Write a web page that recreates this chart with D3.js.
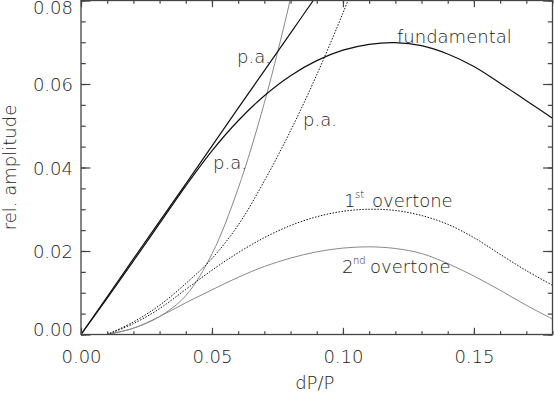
<!DOCTYPE html>
<html>
<head>
<meta charset="utf-8">
<style>
  body { margin: 0; background: #fff; }
  svg { display: block; font-family: "DejaVu Sans", sans-serif; }
  .lbl { font-size: 18px; fill: #222; font-weight: 200; }
  .axis text { font-size: 18px; fill: #222; font-weight: 200; font-family: "DejaVu Sans", sans-serif; }
  .axis line { stroke: #444; stroke-width: 1.2; }
  .axis path { display: none; }
</style>
<script src="https://d3js.org/d3.v7.min.js"></script>
</head>
<body>
<script>
// ticks
const xMajor = [0.00, 0.05, 0.10, 0.15];
const yMajor = [0.00, 0.02, 0.04, 0.06, 0.08];

// fundamental mode and its power approximation
const fundX = [0.00, 0.01, 0.02, 0.03, 0.04, 0.05, 0.06, 0.07, 0.08, 0.09, 0.10, 0.11, 0.12, 0.13, 0.14, 0.15, 0.16, 0.17, 0.18];
const fundY = [0.0000, 0.0087, 0.0176, 0.0266, 0.0356, 0.0440, 0.0512, 0.0572, 0.0620, 0.0656, 0.0681, 0.0695, 0.0699, 0.0692, 0.0672, 0.0642, 0.0602, 0.0560, 0.0518];
const paFundX = [0.00, 0.02, 0.04, 0.06, 0.08, 0.092];
const paFundY = [0.0000, 0.0181, 0.0361, 0.0542, 0.0722, 0.0830];

// 1st overtone and its power approximation
const ov1X = [0.01, 0.02, 0.03, 0.04, 0.05, 0.06, 0.07, 0.08, 0.09, 0.10, 0.11, 0.12, 0.13, 0.14, 0.15, 0.16, 0.17, 0.18];
const ov1Y = [0.0000, 0.0026, 0.0062, 0.0108, 0.0154, 0.0196, 0.0232, 0.0261, 0.0282, 0.0295, 0.0300, 0.0297, 0.0285, 0.0264, 0.0232, 0.0192, 0.0153, 0.0118];
const paOv1X = [0.01, 0.02, 0.03, 0.04, 0.05, 0.06, 0.07, 0.08, 0.09, 0.10, 0.105];
const paOv1Y = [0.0000, 0.0030, 0.0070, 0.0122, 0.0182, 0.0262, 0.0368, 0.0488, 0.0622, 0.0770, 0.0850];

// 2nd overtone and its power approximation
const ov2X = [0.01, 0.02, 0.03, 0.04, 0.05, 0.06, 0.07, 0.08, 0.09, 0.10, 0.11, 0.12, 0.13, 0.14, 0.15, 0.16, 0.17, 0.18];
const ov2Y = [0.0000, 0.0015, 0.0043, 0.0076, 0.0107, 0.0137, 0.0163, 0.0183, 0.0198, 0.0207, 0.0210, 0.0206, 0.0194, 0.0170, 0.0140, 0.0106, 0.0070, 0.0037];
const paOv2X = [0.01, 0.02, 0.03, 0.04, 0.05, 0.06, 0.07, 0.08, 0.085];
const paOv2Y = [0.0000, 0.0015, 0.0043, 0.0093, 0.0193, 0.0350, 0.0555, 0.0805, 0.0950];

const W = 554, H = 393;
const m = { left: 81, top: 0.5, right: 1.5, bottom: 58.5 };
const iw = W - m.left - m.right, ih = H - m.top - m.bottom;

const svg = d3.select('body').append('svg').attr('width', W).attr('height', H);
const g = svg.append('g').attr('transform', `translate(${m.left},${m.top})`);

const x = d3.scaleLinear().domain([0, 0.18]).range([0, iw]);
const y = d3.scaleLinear().domain([0, 0.08]).range([ih, 0]);

g.append('clipPath').attr('id', 'clip')
  .append('rect').attr('width', iw).attr('height', ih);

const line = d3.line().x(d => x(d[0])).y(d => y(d[1])).curve(d3.curveCatmullRom.alpha(0.5));
const pts = (xs, ys) => xs.map((v, i) => [v, ys[i]]);

const curves = [
  { d: pts(paOv2X, paOv2Y), color: '#888', w: 1, dash: null },
  { d: pts(ov2X, ov2Y), color: '#888', w: 1, dash: null },
  { d: pts(paOv1X, paOv1Y), color: '#111', w: 1, dash: '1.5,1.5' },
  { d: pts(ov1X, ov1Y), color: '#111', w: 1, dash: '1.5,1.5' },
  { d: pts(paFundX, paFundY), color: '#111', w: 1.2, dash: null },
  { d: pts(fundX, fundY), color: '#111', w: 1.2, dash: null }
];

g.append('g').attr('clip-path', 'url(#clip)')
  .selectAll('path').data(curves).join('path')
  .attr('d', c => line(c.d))
  .attr('fill', 'none')
  .attr('stroke', c => c.color)
  .attr('stroke-width', c => c.w)
  .attr('stroke-dasharray', c => c.dash);

// axes: ticks point inward on all four sides
const xMinor = d3.range(0, 0.1801, 0.01);
const yMinor = d3.range(0, 0.0801, 0.005);
const xt = 6.7, yt = 9.4;

g.append('g').attr('class', 'axis').attr('transform', `translate(0,${ih})`)
  .call(d3.axisBottom(x).tickValues(xMinor).tickSize(-xt / 2).tickFormat(''));
g.append('g').attr('class', 'axis').attr('transform', `translate(0,${ih})`)
  .call(d3.axisBottom(x).tickValues(xMajor).tickSize(-xt).tickPadding(15.5).tickFormat(d3.format('.2f')));
g.append('g').attr('class', 'axis')
  .call(d3.axisTop(x).tickValues(xMinor).tickSize(-xt / 2).tickFormat(''));
g.append('g').attr('class', 'axis')
  .call(d3.axisTop(x).tickValues(xMajor).tickSize(-xt).tickFormat(''));

g.append('g').attr('class', 'axis')
  .call(d3.axisLeft(y).tickValues(yMinor).tickSize(-yt / 2).tickFormat(''));
const yAx = g.append('g').attr('class', 'axis')
  .call(d3.axisLeft(y).tickValues(yMajor).tickSize(-yt).tickPadding(8).tickFormat(d3.format('.2f')));
yAx.selectAll('text').attr('y', d => d === 0 ? -5 : (d === 0.08 ? 7.5 : 1));
g.append('g').attr('class', 'axis').attr('transform', `translate(${iw},0)`)
  .call(d3.axisRight(y).tickValues(yMinor).tickSize(-yt / 2).tickFormat(''));
g.append('g').attr('class', 'axis').attr('transform', `translate(${iw},0)`)
  .call(d3.axisRight(y).tickValues(yMajor).tickSize(-yt).tickFormat(''));

g.append('rect').attr('width', iw).attr('height', ih)
  .attr('fill', 'none').attr('stroke', '#444').attr('stroke-width', 1.3);

// axis titles
svg.append('text').attr('class', 'lbl')
  .attr('x', m.left + iw / 2 - 2).attr('y', 389)
  .attr('text-anchor', 'middle').text('dP/P');
svg.append('text').attr('class', 'lbl')
  .attr('transform', `translate(16,${m.top + ih / 2}) rotate(-90)`)
  .attr('text-anchor', 'middle').text('rel. amplitude');

// curve labels
const lab = (px, py, t) => svg.append('text').attr('class', 'lbl').attr('x', px).attr('y', py).text(t);
lab(397, 43, 'fundamental');
lab(237, 63, 'p.a.');
lab(303, 126, 'p.a.');
lab(213, 169, 'p.a.');

const sup = (px, py, n, s) => {
  const t = svg.append('text').attr('class', 'lbl').attr('y', py);
  t.append('tspan').attr('x', px).text(n);
  t.append('tspan').attr('x', px + 11).attr('dy', -9).style('font-size', '10px').text(s);
  t.append('tspan').attr('x', px + 28).attr('dy', 9).text('overtone');
};
sup(344, 207, '1', 'st');
sup(342, 273, '2', 'nd');
</script>
</body>
</html>
